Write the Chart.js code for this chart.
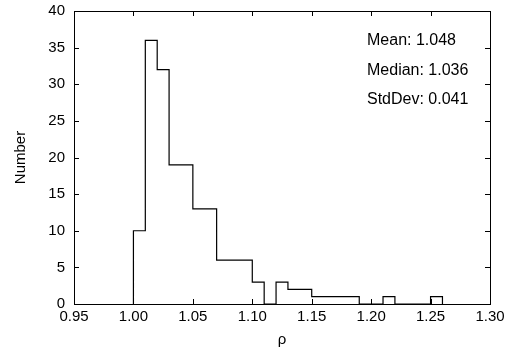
<!DOCTYPE html>
<html>
<head>
<meta charset="utf-8">
<script src="https://cdn.jsdelivr.net/npm/chart.js@4/dist/chart.umd.min.js"></script>
<style>
  html, body { margin: 0; padding: 0; background: #fff; }
  #wrap { width: 514px; height: 357px; }
</style>
</head>
<body>
<div id="wrap"><canvas id="chart" width="514" height="357"></canvas></div>
<script>
const binStarts = [1.00, 1.01, 1.02, 1.03, 1.04, 1.05, 1.06, 1.07, 1.08, 1.09, 1.10, 1.11, 1.12,
  1.13, 1.14, 1.15, 1.16, 1.17, 1.18, 1.19, 1.20, 1.21, 1.22, 1.23, 1.24, 1.25];
const binEnd = 1.26;
const counts = [10, 36, 32, 19, 19, 13, 13, 6, 6, 6, 3, 0, 3,
  2, 2, 1, 1, 1, 1, 0, 0, 1, 0, 0, 0, 1];
const statLabels = ["Mean: 1.048", "Median: 1.036", "StdDev: 0.041"];
const xRange = [0.95, 1.30];
const yRange = [0, 40];

const FONT = "'Liberation Sans', Arial, Helvetica, sans-serif";

let points = [{x: binStarts[0], y: 0}];
binStarts.forEach((x, i)=>{ points.push({x: x, y: counts[i]}); });
points.push({x: binEnd, y: 0});

// gnuplot style frame: box with ticks pointing inward on every side
const frame = {
  id: "frame",
  afterDatasetsDraw(chart){
    const {ctx, chartArea: a, scales} = chart;
    const len = 5;
    ctx.save();
    ctx.strokeStyle = "#000";
    ctx.lineWidth = 1;
    ctx.beginPath();
    scales.x.ticks.forEach((t)=>{
      const px = Math.round(scales.x.getPixelForValue(t.value)) + 0.5;
      ctx.moveTo(px, a.bottom); ctx.lineTo(px, a.bottom - len);
      ctx.moveTo(px, a.top); ctx.lineTo(px, a.top + len);
    });
    scales.y.ticks.forEach((t)=>{
      const py = Math.round(scales.y.getPixelForValue(t.value)) + 0.5;
      ctx.moveTo(a.left, py); ctx.lineTo(a.left + len, py);
      ctx.moveTo(a.right, py); ctx.lineTo(a.right - len, py);
    });
    ctx.stroke();
    ctx.strokeRect(Math.round(a.left) + 0.5, Math.round(a.top) + 0.5,
      Math.round(a.right - a.left), Math.round(a.bottom - a.top));

    ctx.fillStyle = "#000";
    ctx.font = "16px " + FONT;
    ctx.textBaseline = "alphabetic";
    statLabels.forEach((s, i)=>{
      ctx.fillText(s, a.left + 293, a.top + 34 + i * 29.5);
    });
    ctx.restore();
  }
};

new Chart(document.getElementById("chart"), {
  type: "line",
  data: {
    datasets: [{
      data: points,
      stepped: "before",
      borderColor: "#000",
      borderWidth: 1.2,
      pointRadius: 0,
      fill: false
    }]
  },
  options: {
    responsive: false,
    animation: false,
    events: [],
    layout: {padding: {left: 0, top: 11, right: 24, bottom: 0}},
    plugins: {legend: {display: false}, tooltip: {enabled: false}},
    scales: {
      x: {
        type: "linear",
        min: xRange[0],
        max: xRange[1],
        afterFit: (s)=>{ s.height = 53; },
        grid: {display: false, drawTicks: false},
        border: {display: false},
        ticks: {
          stepSize: 0.05,
          padding: 4,
          color: "#000",
          font: {family: FONT, size: 15},
          callback: (v)=>Number(v).toFixed(2)
        },
        title: {display: true, text: "ρ", color: "#000", font: {family: FONT, size: 15}, padding: {top: 4, bottom: 8}}
      },
      y: {
        min: yRange[0],
        max: yRange[1],
        afterFit: (s)=>{ s.width = 74; s.paddingTop = 0; s.paddingBottom = 0; },
        grid: {display: false, drawTicks: false},
        border: {display: false},
        ticks: {
          stepSize: 5,
          padding: 9,
          color: "#000",
          font: {family: FONT, size: 15}
        },
        title: {display: true, text: "Number", color: "#000", font: {family: FONT, size: 15}, padding: {top: 12, bottom: 0}}
      }
    }
  },
  plugins: [frame]
});
</script>
</body>
</html>
